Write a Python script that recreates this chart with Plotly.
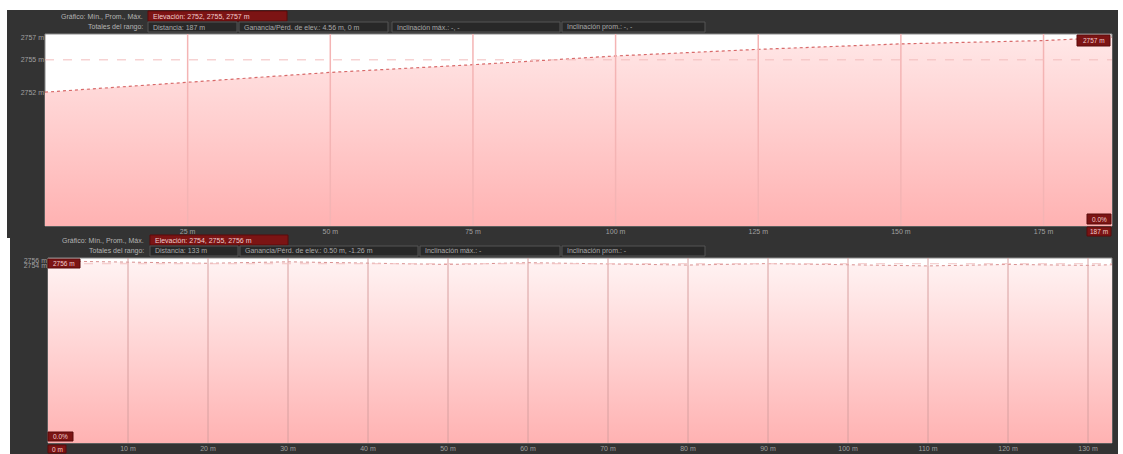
import plotly.graph_objects as go
import numpy as np

W, H = 1123, 454

# perfil superior (distancia en m, elevación en m)
dist_top = [0, 25, 50, 75, 100, 125, 150, 175, 187]
elev_top = [2752.0, 2752.9, 2753.8, 2754.5, 2755.3, 2755.9, 2756.4, 2756.7, 2757.0]
ticks_top = [25, 50, 75, 100, 125, 150, 175]

# perfil inferior
dist_bot = [0, 10, 20, 30, 40, 50, 60, 70, 80, 90, 100, 110, 120, 130, 133]
elev_bot = [2756.0, 2755.6, 2755.2, 2755.7, 2755.3, 2754.8, 2755.4, 2755.0,
            2754.6, 2755.1, 2754.7, 2754.3, 2754.8, 2754.5, 2754.7]
ticks_bot = [10, 20, 30, 40, 50, 60, 70, 80, 90, 100, 110, 120, 130]

header_top = ["Elevación: 2752, 2755, 2757 m", "Distancia: 187 m",
              "Ganancia/Pérd. de elev.: 4.56 m, 0 m",
              "Inclinación máx.: -, -", "Inclinación prom.: -, -"]
header_bot = ["Elevación: 2754, 2755, 2756 m", "Distancia: 133 m",
              "Ganancia/Pérd. de elev.: 0.50 m, -1.26 m",
              "Inclinación máx.: -", "Inclinación prom.: -"]

FONT = "Liberation Sans"
DARK = "#333333"

# áreas de trazado en píxeles (x0, x1, y0, y1)
TOP_AREA = (45, 1112, 34, 226)
BOT_AREA = (48, 1112, 258, 443)


def px(x):
    return x / W


def py(y):
    return 1 - y / H


fig = go.Figure()

# fondos oscuros de los paneles y fondo blanco de los gráficos
shapes = [
    dict(type="rect", xref="paper", yref="paper", x0=px(7), x1=px(1118), y0=py(238), y1=py(10),
         fillcolor=DARK, line=dict(width=0), layer="below"),
    dict(type="rect", xref="paper", yref="paper", x0=px(10), x1=px(1118), y0=py(454), y1=py(238),
         fillcolor=DARK, line=dict(width=0), layer="below"),
]
for x0, x1, y0, y1 in (TOP_AREA, BOT_AREA):
    shapes.append(dict(type="rect", xref="paper", yref="paper", x0=px(x0), x1=px(x1),
                       y0=py(y1), y1=py(y0), fillcolor="white",
                       line=dict(color="#8a8a8a", width=1), layer="below"))
annotations = []


def box(x0, x1, y0, y1, text, fill, border, color, center=False, size=7):
    shapes.append(dict(type="rect", xref="paper", yref="paper",
                       x0=px(x0), x1=px(x1), y0=py(y1), y1=py(y0),
                       fillcolor=fill, line=dict(color=border, width=1), layer="above"))
    annotations.append(dict(xref="paper", yref="paper",
                            x=px((x0 + x1) / 2) if center else px(x0 + 3),
                            y=py((y0 + y1) / 2),
                            text=text, showarrow=False,
                            xanchor="center" if center else "left", yanchor="middle",
                            font=dict(family=FONT, size=size, color=color)))


def label(x, y, text, anchor="right"):
    annotations.append(dict(xref="paper", yref="paper", x=px(x), y=py(y), text=text,
                            showarrow=False, xanchor=anchor, yanchor="middle",
                            font=dict(family=FONT, size=7, color="#b4b4b4")))


def header(y1, y2, xl, texts, boxes):
    label(xl, y1, "Gráfico: Mín., Prom., Máx.")
    label(xl, y2, "Totales del rango:")
    x0, x1 = boxes[0]
    box(x0, x1, y1 - 5, y1 + 5, texts[0], "#7c1414", "#5a0a0a", "#f0cccc")
    for t, (x0, x1) in zip(texts[1:], boxes[1:]):
        box(x0, x1, y2 - 5, y2 + 5, t, "#282828", "#555555", "#a8a8a8")


header(16, 27, 145, header_top, [(148, 287), (148, 237), (239, 388), (392, 560), (562, 705)])
header(240, 251, 146, header_bot, [(150, 288), (150, 238), (240, 418), (420, 560), (562, 705)])

# rangos de los ejes
yr_top = [2739.8, 2757.3]
yr_bot = [2694.0, 2757.0]

grad_top = dict(type="vertical", start=yr_top[0], stop=yr_top[1],
                colorscale=[[0, "#ffb2b2"], [1, "#ffe8e8"]])
grad_bot = dict(type="vertical", start=yr_bot[0], stop=yr_bot[1],
                colorscale=[[0, "#ffb2b2"], [1, "#fff4f4"]])

fig.add_trace(go.Scatter(x=dist_top, y=elev_top, xaxis="x", yaxis="y", mode="lines",
                         fill="tozeroy", fillgradient=grad_top,
                         line=dict(color="#d86a6a", width=1.2, dash="dot"),
                         hoverinfo="skip", showlegend=False))
fig.add_trace(go.Scatter(x=dist_bot, y=elev_bot, xaxis="x2", yaxis="y2", mode="lines",
                         fill="tozeroy", fillgradient=grad_bot,
                         line=dict(color="#d89090", width=1, dash="dot"),
                         hoverinfo="skip", showlegend=False))

# líneas de la cuadrícula por encima del relleno
for t in ticks_top:
    shapes.append(dict(type="line", xref="x", yref="y domain", x0=t, x1=t, y0=0, y1=1,
                       line=dict(color="#f4b4b4", width=1.5), layer="above"))
for t in ticks_bot:
    shapes.append(dict(type="line", xref="x2", yref="y2 domain", x0=t, x1=t, y0=0, y1=1,
                       line=dict(color="#d8a0a0", width=1), layer="above"))

# línea de elevación promedio
avg_top = float(np.mean(elev_top))
avg_bot = float(np.mean(elev_bot))
shapes.append(dict(type="line", xref="x domain", yref="y", x0=0, x1=1, y0=avg_top, y1=avg_top,
                   line=dict(color="#f2bcbc", width=1, dash="dash"), layer="above"))
shapes.append(dict(type="line", xref="x2 domain", yref="y2", x0=0, x1=1, y0=avg_bot, y1=avg_bot,
                   line=dict(color="#f2c4c4", width=1, dash="dash"), layer="above"))

# etiquetas rojas sobre el gráfico
red = "#7c1414"
box(1077, 1110, 35, 46, f"{elev_top[-1]:.0f} m", red, "#5a0a0a", "#f0cccc", True, 6.5)
box(1087, 1111, 214, 224, "0.0%", red, "#5a0a0a", "#f0cccc", True, 6.5)
box(1087, 1111, 227, 236, f"{dist_top[-1]} m", red, "#5a0a0a", "#f0cccc", True, 6.5)
box(48, 80, 259, 268, f"{elev_bot[0]:.0f} m", red, "#5a0a0a", "#f0cccc", True, 6.5)
box(48, 73, 432, 441, "0.0%", red, "#5a0a0a", "#f0cccc", True, 6.5)
box(48, 66, 445, 453, "0 m", red, "#5a0a0a", "#f0cccc", True, 6.5)

tickfont = dict(family=FONT, size=7, color="#a0a0a0")
axis_common = dict(showgrid=False, zeroline=False, showline=False, ticks="", fixedrange=True,
                   tickfont=tickfont)

fig.update_layout(
    width=W, height=H, autosize=False,
    margin=dict(l=0, r=0, t=0, b=0),
    paper_bgcolor="white", plot_bgcolor="rgba(0,0,0,0)",
    shapes=shapes, annotations=annotations,
    xaxis=dict(domain=[px(TOP_AREA[0]), px(TOP_AREA[1])], range=[0, dist_top[-1]], anchor="y",
               tickvals=ticks_top, ticktext=[f"{t} m" for t in ticks_top], **axis_common),
    yaxis=dict(domain=[py(TOP_AREA[3]), py(TOP_AREA[2])], range=yr_top, anchor="x",
               tickvals=[min(elev_top), avg_top, max(elev_top)],
               ticktext=[f"{v:.0f} m" for v in [min(elev_top), avg_top, max(elev_top)]],
               **axis_common),
    xaxis2=dict(domain=[px(BOT_AREA[0]), px(BOT_AREA[1])], range=[0, dist_bot[-1]], anchor="y2",
                tickvals=ticks_bot, ticktext=[f"{t} m" for t in ticks_bot],
                ticklabelstandoff=0, **axis_common),
    yaxis2=dict(domain=[py(BOT_AREA[3]), py(BOT_AREA[2])], range=yr_bot, anchor="x2",
                tickvals=[min(elev_bot), max(elev_bot)],
                ticktext=[f"{v:.0f} m" for v in [min(elev_bot), max(elev_bot)]],
                **axis_common),
)

fig.write_html("out.html", config={"displayModeBar": False},
               post_script="document.body.style.margin='0px';document.body.style.overflow='hidden';")
